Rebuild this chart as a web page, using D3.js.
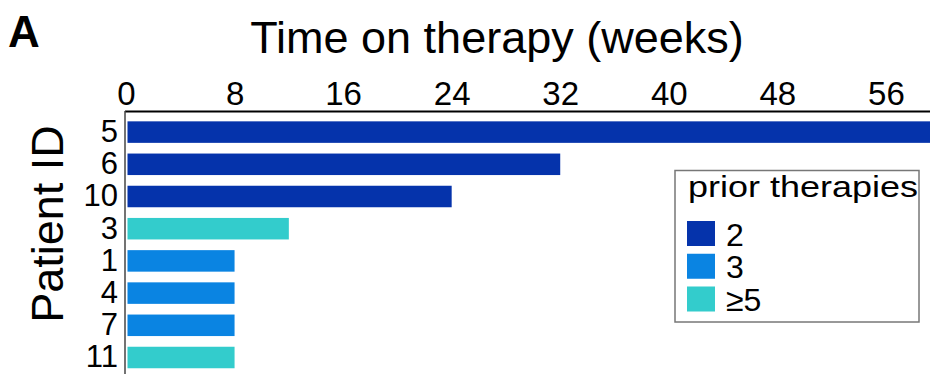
<!DOCTYPE html>
<html>
<head>
<meta charset="utf-8">
<script src="https://cdn.jsdelivr.net/npm/d3@7"></script>
<style>
  html, body { margin: 0; padding: 0; background: #fff; }
  svg { display: block; font-family: "Liberation Sans", Arial, Helvetica, sans-serif; }
</style>
</head>
<body>
<svg id="chart" width="930" height="374"></svg>
<script>
// Time on therapy per patient, coloured by number of prior therapies
const patients = ["5", "6", "10", "3", "1", "4", "7", "11"];
const weeks = [60, 32, 24, 12, 8, 8, 8, 8];
const priorTherapies = ["2", "2", "2", "≥5", "3", "3", "3", "≥5"];
const groups = ["2", "3", "≥5"];
const groupColors = ["#0533ab", "#0a84e2", "#33cccc"];
const xTicks = [0, 8, 16, 24, 32, 40, 48, 56];

const W = 930, H = 374;
const svg = d3.select("#chart");
svg.append("rect").attr("width", W).attr("height", H).attr("fill", "#fff");

const x = d3.scaleLinear().domain([0, 59.25]).range([126, 930]);
const y = d3.scaleBand().domain(patients).range([116, 373.6])
  .paddingInner(0.332).paddingOuter(0.166);
const color = d3.scaleOrdinal().domain(groups).range(groupColors);

// Panel letter and title
svg.append("text").attr("x", 8).attr("y", 47)
  .attr("font-size", 44).attr("font-weight", "bold").attr("fill", "#000")
  .text("A");
svg.append("text").attr("x", 497).attr("y", 53)
  .attr("text-anchor", "middle").attr("font-size", 45).attr("fill", "#000")
  .text("Time on therapy (weeks)");

// Bars
svg.append("g").selectAll("rect").data(patients).join("rect")
  .attr("x", x(0) + 1.5)
  .attr("y", d => y(d))
  .attr("width", (d, i) => Math.min(x(weeks[i]), W + 5) - x(0) - 1.5)
  .attr("height", y.bandwidth())
  .attr("fill", (d, i) => color(priorTherapies[i]));

// Top x axis
const xAxis = svg.append("g").attr("transform", "translate(0,111.5)")
  .call(d3.axisTop(x).tickValues(xTicks).tickSize(0).tickSizeOuter(0).tickPadding(6.5));
xAxis.select(".domain").attr("stroke", "#000").attr("stroke-width", 2)
  .attr("d", `M${x(0) - 1},0H${W}`);
xAxis.selectAll(".tick text").attr("font-size", 33).attr("fill", "#000")
  .attr("font-family", "'Liberation Sans', Arial, sans-serif");

// Left y axis
const yAxis = svg.append("g").attr("transform", `translate(${x(0) - 1},0)`)
  .call(d3.axisLeft(y).tickSize(0).tickPadding(7));
yAxis.select(".domain").attr("stroke", "#444").attr("stroke-width", 1.5)
  .attr("d", `M0,111H0V${H}`);
yAxis.selectAll(".tick text").attr("font-size", 31).attr("fill", "#000")
  .attr("font-family", "'Liberation Sans', Arial, sans-serif");

svg.append("text")
  .attr("transform", "translate(63,224) rotate(-90)")
  .attr("text-anchor", "middle").attr("font-size", 45).attr("fill", "#000")
  .text("Patient ID");

// Legend
const legend = svg.append("g");
legend.append("rect").attr("x", 675).attr("y", 170.5).attr("width", 244).attr("height", 151.5)
  .attr("fill", "#fff").attr("stroke", "#777").attr("stroke-width", 1.5);
legend.append("text").attr("x", 688).attr("y", 197)
  .attr("font-size", 30).attr("fill", "#000")
  .attr("textLength", 230).attr("lengthAdjust", "spacingAndGlyphs")
  .text("prior therapies");
const ly = d3.scalePoint().domain(groups).range([221, 286.5]);
const items = legend.selectAll("g.item").data(groups).join("g").attr("class", "item")
  .attr("transform", d => `translate(687,${ly(d)})`);
items.append("rect").attr("width", 28).attr("height", 25).attr("fill", d => color(d));
items.append("text").attr("x", 39).attr("y", 24.5)
  .attr("font-size", 32).attr("fill", "#000").text(d => d);
</script>
</body>
</html>
